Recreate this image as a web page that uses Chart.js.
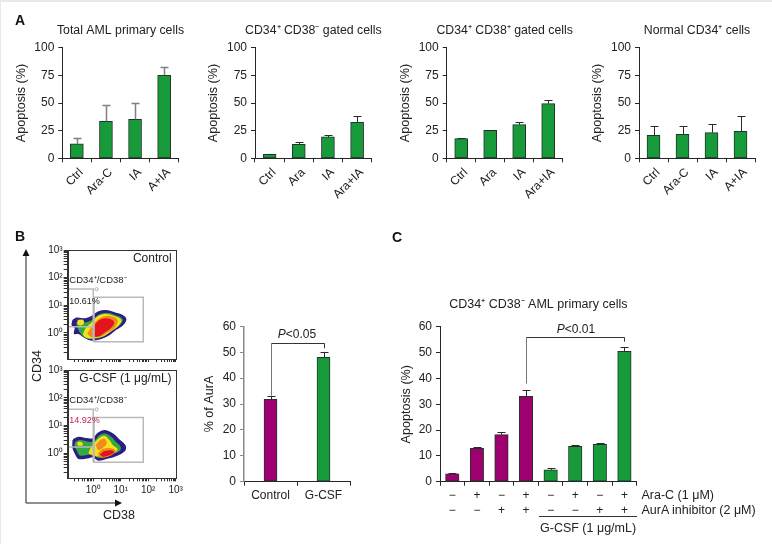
<!DOCTYPE html>
<html><head><meta charset="utf-8">
<script src="https://cdn.jsdelivr.net/npm/chart.js@4/dist/chart.umd.js"></script>
<style>
html,body{margin:0;padding:0;background:#fff;width:772px;height:544px;overflow:hidden}
canvas{position:absolute;left:0;top:0}
.t{position:absolute;font:12.5px "Liberation Sans",Arial,sans-serif;color:#222;white-space:nowrap;transform:translateY(-50%);line-height:14px}
.l{font-weight:bold;font-size:14px;color:#111}
#edge{position:absolute;left:0;top:0;width:771px;height:542px;border-top:2px solid #e8e8e8;border-left:1px solid #e8e8e8;border-right:1px solid #eee}
</style></head><body>
<div id="edge"></div>
<div id="stage"></div>
<div class="t l" style="left:15px;top:20px">A</div>
<div class="t l" style="left:15px;top:236px">B</div>
<div class="t l" style="left:392px;top:237px">C</div>
<div class="t" style="top:366px;transform:translate(-50%,-50%) rotate(-90deg);left:37px">CD34</div>
<div class="t" style="left:103px;top:515px">CD38</div>
<div class="t" style="left:641.5px;top:495px">Ara-C (1 μM)</div>
<div class="t" style="left:641.5px;top:510px">AurA inhibitor (2 μM)</div>
<div class="t" style="left:540px;top:528px">G-CSF (1 μg/mL)</div>
<div style="position:absolute;left:539px;top:516px;width:98px;height:1px;background:#333"></div>
<svg width="772" height="544" style="position:absolute;left:0;top:0">
<path d="M26 252V503H118" fill="none" stroke="#222" stroke-width="1"/>
<path d="M26 249l-3.5 7h7z M122 503l-7-3.5v7z" fill="#111"/>
</svg>
<script>
// ---------- Panel A ----------
const a1Labels = ['Ctrl','Ara-C','IA','A+IA'];
const a1Values = [13,33.4,35.2,75];
const a1Upper  = [18.7,47.9,50.3,83];
const a2Labels = ['Ctrl','Ara','IA','Ara+IA'];
const a2Values = [3.9,12.7,19.3,32.5];
const a2Upper  = [4.1,14.5,20.8,38];
const a3Labels = ['Ctrl','Ara','IA','Ara+IA'];
const a3Values = [17.8,25.3,30.4,49.4];
const a3Upper  = [18.1,25.9,33,52.4];
const a4Labels = ['Ctrl','Ara-C','IA','A+IA'];
const a4Values = [20.8,21.7,23.2,24.4];
const a4Upper  = [28.9,28.9,30.7,38];
// ---------- Panel B bars ----------
const bLabels = ['Control','G-CSF'];
const bValues = [31.8,48];
const bUpper  = [32.9,49.9];
// ---------- Panel C ----------
const araC = ['−','+','−','+','−','+','−','+'];
const aurA = ['−','−','+','+','−','−','+','+'];
const cValues = [3,12.9,18.2,33,4.6,13.7,14.5,50.5];
const cUpper  = [3.3,13.5,19.4,35.4,5.2,14.2,14.8,52.3];
// ---------- Panel B flow plots: outlines in log10 units (x = CD38, y = CD34) ----------
const decades = [-1,0,1,2,3];
const minorSteps = [0.301,0.477,0.602,0.699,0.778,0.845,0.903,0.954];
const gateLow  = [[-0.93,1.59],[0,1.59],[0,-0.32],[0,0.23],[-0.93,0.23]];
const gateHigh = [[0.03,1.29],[1.82,1.29],[1.82,-0.32],[0.03,-0.32],[0.03,1.29]];
const gateDot  = [[0.12,1.58]];
const ctlOuter = [[-0.73,0.47],[-0.59,0.53],[-0.29,0.51],[-0.06,0.59],[0.18,0.75],[0.47,0.80],[0.82,0.71],[1.06,0.63],[1.18,0.51],[1.06,0.29],[0.82,0.14],[0.59,-0.05],[0.29,-0.19],[-0.06,-0.25],[-0.35,-0.13],[-0.53,-0.01],[-0.68,-0.01],[-0.65,0.19],[-0.76,0.29],[-0.73,0.47]];
const ctlGreen = [[-0.62,0.38],[-0.3,0.38],[-0.04,0.47],[0.2,0.66],[0.47,0.73],[0.77,0.66],[1.07,0.5],[0.95,0.27],[0.66,0.08],[0.35,-0.14],[-0.06,-0.22],[-0.32,-0.15],[-0.5,0.04],[-0.58,0.22],[-0.62,0.38]];
const ctlYellow = [[-0.38,-0.05],[-0.26,0.2],[-0.02,0.42],[0.18,0.62],[0.47,0.69],[0.75,0.62],[1.02,0.47],[0.9,0.24],[0.62,0.04],[0.32,-0.14],[-0.06,-0.2],[-0.28,-0.16],[-0.38,-0.05]];
const ctlSpot = [[-0.56,0.48],[-0.38,0.48],[-0.33,0.37],[-0.45,0.27],[-0.58,0.33],[-0.56,0.48]];
const ctlOrange = [[-0.22,-0.03],[0,0.3],[0.22,0.52],[0.55,0.62],[0.88,0.48],[0.8,0.22],[0.52,0.02],[0.25,-0.14],[-0.06,-0.15],[-0.22,-0.03]];
const ctlRed = [[0,0.05],[0.08,0.33],[0.28,0.50],[0.55,0.52],[0.76,0.40],[0.66,0.20],[0.42,0.02],[0.2,-0.12],[0.02,-0.12],[0,0.05]];
const csfOuter = [[-0.73,0.48],[-0.53,0.57],[-0.24,0.52],[0,0.52],[0.18,0.72],[0.41,0.81],[0.71,0.69],[0.94,0.48],[1.15,0.28],[1.12,0.08],[0.82,-0.08],[0.47,-0.18],[0.18,-0.24],[0,-0.12],[-0.24,-0.16],[-0.53,-0.18],[-0.65,0],[-0.73,0.2],[-0.73,0.48]];
const csfGreen = [[-0.65,0.42],[-0.47,0.48],[-0.18,0.42],[0.02,0.42],[0.21,0.64],[0.41,0.71],[0.65,0.60],[0.82,0.42],[1,0.23],[0.96,0.08],[0.71,-0.01],[0.41,-0.12],[0.18,-0.16],[0,-0.06],[-0.24,-0.06],[-0.49,-0.08],[-0.59,0.08],[-0.68,0.28],[-0.65,0.42]];
const csfYellow = [[-0.18,0],[-0.09,0.2],[0.06,0.40],[0.24,0.57],[0.41,0.63],[0.59,0.48],[0.71,0.30],[0.88,0.16],[0.82,0.04],[0.47,-0.06],[0.24,-0.11],[-0.02,-0.08],[-0.18,0]];
const csfSpot = [[-0.56,0.42],[-0.42,0.40],[-0.38,0.30],[-0.50,0.27],[-0.58,0.33],[-0.56,0.42]];
const csfOrangeTop = [[0.09,0.3],[0.26,0.48],[0.41,0.52],[0.49,0.36],[0.35,0.2],[0.18,0.12],[0.09,0.3]];
const csfOrangeLow = [[0.18,0],[0.35,0.16],[0.65,0.18],[0.82,0.08],[0.65,-0.08],[0.35,-0.16],[0.21,-0.12],[0.18,0]];
const csfRed = [[0.24,-0.04],[0.41,0.08],[0.68,0.11],[0.76,0.04],[0.56,-0.08],[0.35,-0.12],[0.24,-0.04]];

const FONT = '"Liberation Sans",Arial,sans-serif';
const GREEN = '#179a3a', PURPLE = '#9e0070', INK = '#262626';
Chart.defaults.font.family = FONT;
Chart.defaults.color = '#222';

const wideTitle = { id:'wideTitle', afterLayout(chart){ const t = chart.titleBlock; if(t && t.options.display){ t.left -= 50; t.right += 50; } } };
const errorBars = {
  id:'errorBars',
  afterDatasetsDraw(chart){
    const ds = chart.data.datasets[0], {x,y} = chart.scales, c = chart.ctx;
    if(!ds.upper) return;
    const o = chart.options.plugins.errorBars;
    c.save(); c.strokeStyle = o.color; c.lineWidth = o.width;
    ds.upper.forEach((u,i)=>{
      const px = Math.round(x.getPixelForValue(i))+.5, t = Math.round(y.getPixelForValue(u))+.5, b = y.getPixelForValue(ds.data[i]);
      c.beginPath(); c.moveTo(px,b); c.lineTo(px,t); c.moveTo(px-4,t); c.lineTo(px+4,t); c.stroke();
    });
    c.restore();
  }
};
const bracket = {
  id:'bracket',
  afterDraw(chart){
    const o = chart.options.plugins.bracket; if(!o || !o.text) return;
    const {x,y} = chart.scales, c = chart.ctx;
    const x0 = Math.round(x.getPixelForValue(o.from))+.5, x1 = Math.round(x.getPixelForValue(o.to))+.5, top = Math.round(y.getPixelForValue(o.top))+.5;
    c.save();
    c.strokeStyle = '#777'; c.beginPath(); c.moveTo(x0,y.getPixelForValue(o.leftEnd)); c.lineTo(x0,top); c.stroke();
    c.strokeStyle = '#333'; c.beginPath(); c.moveTo(x0,top); c.lineTo(x1,top); c.lineTo(x1,y.getPixelForValue(o.rightEnd)); c.stroke();
    c.fillStyle = '#222'; c.textBaseline = 'middle'; c.textAlign = 'left';
    c.font = 'italic 12px '+FONT; const w1 = c.measureText('P').width;
    c.font = '12px '+FONT; const w2 = c.measureText(o.text).width;
    const tx = x.getPixelForValue(o.textAt) - (w1+w2)/2, ty = y.getPixelForValue(o.textY);
    c.font = 'italic 12px '+FONT; c.fillText('P',tx,ty);
    c.font = '12px '+FONT; c.fillText(o.text,tx+w1,ty);
    c.restore();
  }
};
const flowNotes = {
  id:'flowNotes',
  afterDraw(chart){
    const o = chart.options.plugins.flowNotes; if(!o || !o.notes) return;
    const {x,y} = chart.scales, a = chart.chartArea, c = chart.ctx;
    c.save();
    c.strokeStyle = '#333'; c.strokeRect(Math.round(a.left)+.5,Math.round(a.top)+.5,Math.round(a.width),Math.round(a.height));
    c.textBaseline = 'middle';
    o.notes.forEach(n=>{
      c.font = n.size+'px '+FONT; c.fillStyle = n.color||'#222'; c.textAlign = n.align||'left';
      c.fillText(n.text,x.getPixelForValue(n.x),y.getPixelForValue(n.y));
    });
    c.restore();
  }
};
Chart.register(wideTitle,errorBars,bracket,flowNotes);

function mk(){const cv=document.createElement('canvas');cv.width=772;cv.height=544;document.getElementById('stage').appendChild(cv);return cv;}
function fix(w,h){return s=>{ if(w!==undefined)s.width=w; if(h!==undefined)s.height=h; s.paddingLeft=s.paddingRight=s.paddingTop=s.paddingBottom=0; };}

function barChart(p){
  const titleH = p.title ? p.titleH : 0;
  const ts = p.titleSize||12.3;
  return new Chart(mk(),{
    type:'bar',
    data:{labels:p.labels,datasets:[{data:p.values,upper:p.upper,backgroundColor:p.colors,borderColor:'#21352a',borderWidth:1,borderSkipped:false,barThickness:p.bw||13}]},
    options:{
      responsive:false,animation:false,events:[],
      layout:{padding:{left:p.l-p.yW,top:p.t-titleH,right:772-p.r,bottom:544-p.b-p.xH}},
      plugins:{
        legend:{display:false},tooltip:{enabled:false},
        title:{display:!!p.title,text:p.title,fullSize:false,color:'#222',font:{size:ts,weight:'normal',lineHeight:1.2},padding:{top:0,bottom:titleH-ts*1.2}},
        errorBars:{color:p.errColor||'#2a2a2a',width:p.errWidth||1},
        bracket:p.bracket||{},flowNotes:{}
      },
      scales:{
        x:{afterFit:fix(undefined,p.xH),offset:true,
           grid:{offset:true,drawOnChartArea:false,tickLength:4,color:INK,tickColor:INK},
           border:{color:INK,width:1},
           ticks:{autoSkip:false,padding:p.xPad,labelOffset:p.lo||0,maxRotation:p.rot||0,minRotation:p.rot||0,color:'#222',font:{size:12,lineHeight:1.25}}},
        y:{afterFit:fix(p.yW),min:0,max:p.max,
           grid:{drawOnChartArea:false,tickLength:4,color:p.yColor||INK,tickColor:p.yColor||INK},
           border:{color:p.yColor||INK,width:p.yColor?1.5:1},
           title:{display:true,text:p.yTitle,color:'#222',font:{size:12.6,lineHeight:1.2},padding:0},
           ticks:{stepSize:p.step,padding:4,color:'#222',font:{size:12}}}
      }
    }
  });
}
const fourGreen = [GREEN,GREEN,GREEN,GREEN];
const aCommon = {t:47.7,b:158.3,xH:45,max:100,step:25,yTitle:'Apoptosis (%)',colors:fourGreen,rot:45,xPad:3,lo:4.5,titleH:24.5};
barChart({...aCommon,labels:a1Labels,values:a1Values,upper:a1Upper,l:62.3,r:178.7,yW:48.8,title:'Total AML primary cells',errColor:'#808080',errWidth:1.5});
barChart({...aCommon,labels:a2Labels,values:a2Values,upper:a2Upper,l:255,r:371.7,yW:48.8,title:'CD34⁺ CD38⁻ gated cells'});
barChart({...aCommon,labels:a3Labels,values:a3Values,upper:a3Upper,l:446.7,r:562.7,yW:48.8,title:'CD34⁺ CD38⁺ gated cells'});
barChart({...aCommon,labels:a4Labels,values:a4Values,upper:a4Upper,l:639,r:755,yW:48.8,title:'Normal CD34⁺ cells'});
barChart({labels:bLabels,values:bValues,upper:bUpper,colors:[PURPLE,GREEN],l:244,r:350,t:326.3,b:481.7,yW:42,xH:30,max:60,step:10,yTitle:'% of AurA',xPad:2,yColor:'#8a8a8a',
  bracket:{from:0,to:1,top:53.4,leftEnd:33.2,rightEnd:51.5,text:'<0.05',textAt:0.5,textY:56.9}});
barChart({labels:araC.map((v,i)=>[v,aurA[i]]),values:cValues,upper:cUpper,colors:[PURPLE,PURPLE,PURPLE,PURPLE,GREEN,GREEN,GREEN,GREEN],l:440,r:636.7,t:326.7,b:481.7,yW:41,xH:46,max:60,step:10,yTitle:'Apoptosis (%)',xPad:2,title:'CD34⁺ CD38⁻ AML primary cells',titleSize:12.5,titleH:29.9,bw:13.5,
  bracket:{from:3,to:7,top:56.1,leftEnd:38,rightEnd:54.2,text:'<0.01',textAt:5.03,textY:59}});

const SUP = {'-1':'','0':'⁰','1':'¹','2':'²','3':'³'};
const toXY = a => a.map(([x,y])=>({x,y}));
function flowChart(p){
  const shape = (d,color,edge) => ({data:toXY(d),borderColor:color,backgroundColor:color,borderWidth:edge||0,fill:'shape',pointRadius:0,tension:0.35});
  const line = d => ({data:toXY(d),borderColor:'#b9b9b9',borderWidth:1.5,fill:false,pointRadius:0,tension:0});
  const ticksFor = (lo) => {
    const out=[]; decades.forEach(k=>{ if(k>=0&&k<=3) out.push(k); minorSteps.forEach(m=>{const v=k+m; if(v>lo&&v<3) out.push(v);}); });
    return out.map(value=>({value}));
  };
  const lab = v => Number.isInteger(v) ? '10'+SUP[v] : '';
  return new Chart(mk(),{
    type:'scatter',
    data:{datasets:[
      {data:toXY(gateDot),borderColor:'#aaa',backgroundColor:'#fff',pointRadius:1.6,borderWidth:1,showLine:false},
      line(gateLow),line(gateHigh),
      ...p.shapes.map(([d,col,edge])=>shape(d,col,edge))
    ]},
    options:{
      responsive:false,animation:false,events:[],
      datasets:{scatter:{showLine:true}},
      layout:{padding:{left:p.l-24,top:p.t,right:772-p.r,bottom:544-p.b-18}},
      plugins:{legend:{display:false},tooltip:{enabled:false},title:{display:false},flowNotes:{notes:p.notes}},
      scales:{
        x:{type:'linear',min:p.xMin,max:3,afterFit:fix(undefined,18),afterBuildTicks:s=>{s.ticks=ticksFor(p.xMin);},
           grid:{drawOnChartArea:false,tickLength:3,tickColor:'#333'},border:{color:'#333'},
           ticks:{autoSkip:false,maxRotation:0,padding:3,color:'#222',font:{size:10},callback:v=>p.xLabels?lab(v):''}},
        y:{type:'linear',min:p.yMin,max:3,afterFit:fix(24),afterBuildTicks:s=>{s.ticks=ticksFor(p.yMin);},
           grid:{drawOnChartArea:false,tickLength:4,tickColor:'#333'},border:{color:'#333'},
           ticks:{autoSkip:false,padding:1,color:'#222',font:{size:10},callback:lab}}
      }
    }
  });
}
const BLUE='#2b1f86', GRN='#35a83f', YEL='#f4e21c', ORG='#f08a1e', RED='#e2141c';
flowChart({l:67.7,r:175.7,t:250,b:359,xMin:-0.93,yMin:-0.94,xLabels:false,
  shapes:[[ctlRed,RED],[ctlOrange,ORG],[ctlSpot,YEL],[ctlYellow,YEL],[ctlGreen,GRN],[ctlOuter,BLUE,1.5]],
  notes:[{text:'Control',x:2.85,y:2.68,size:12,align:'right'},{text:'CD34⁺/CD38⁻',x:-0.87,y:1.92,size:9.5},{text:'10.61%',x:-0.87,y:1.12,size:9}]});
flowChart({l:67.7,r:175.7,t:370,b:478.3,xMin:-0.93,yMin:-0.9,xLabels:true,
  shapes:[[csfRed,RED],[csfOrangeTop,ORG],[csfOrangeLow,ORG],[csfSpot,YEL],[csfYellow,YEL],[csfGreen,GRN],[csfOuter,BLUE,1.5]],
  notes:[{text:'G-CSF (1 μg/mL)',x:2.85,y:2.68,size:12,align:'right'},{text:'CD34⁺/CD38⁻',x:-0.87,y:1.89,size:9.5},{text:'14.92%',x:-0.87,y:1.18,size:9,color:'#c0254f'}]});
</script>
</body></html>
